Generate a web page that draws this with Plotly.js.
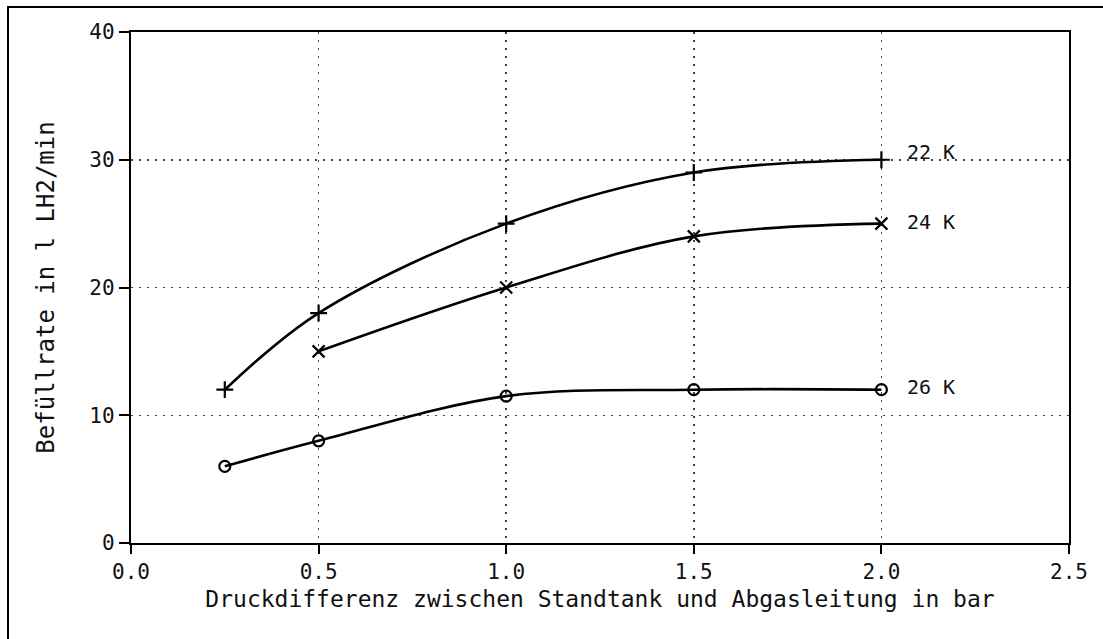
<!DOCTYPE html>
<html>
<head>
<meta charset="utf-8">
<script src="https://cdn.plot.ly/plotly-3.0.1.min.js"></script>
<style>
  html, body { margin: 0; padding: 0; background: #fff; overflow: hidden; }
  #wrap { position: relative; width: 1103px; height: 639px; overflow: hidden; }
  #frame { position: absolute; left: 7px; top: 6px; width: 1096px; height: 633px; border-left: 2px solid #000; border-top: 2px solid #000; box-sizing: border-box; }
  #chart { position: absolute; left: 0; top: 0; width: 1103px; height: 639px; }
</style>
</head>
<body>
<div id="wrap">
  <div id="frame"></div>
  <div id="chart"></div>
</div>
<script>
// Data
const pressure22 = [0.25, 0.5, 1.0, 1.5, 2.0];
const rate22     = [12, 18, 25, 29, 30];
const pressure24 = [0.5, 1.0, 1.5, 2.0];
const rate24     = [15, 20, 24, 25];
const pressure26 = [0.25, 0.5, 1.0, 1.5, 2.0];
const rate26     = [6, 8, 11.5, 12, 12];

const seriesLabels = ['22 K', '24 K', '26 K'];
const labelY       = [30.6, 25.1, 12.2];
const labelX       = 2.0;

const xTickVals = [0, 0.5, 1.0, 1.5, 2.0, 2.5];
const yTickVals = [0, 10, 20, 30, 40];

const FONT = 'DejaVu Sans Mono, Liberation Mono, monospace';

function curve(x, y, symbol, size) {
  return {
    x: x, y: y, type: 'scatter', mode: 'lines+markers',
    line: { color: '#000', width: 2.6, shape: 'spline', smoothing: 1 },
    marker: { symbol: symbol, size: size, color: '#000', line: { color: '#000', width: 2.2 } },
    showlegend: false, hoverinfo: 'x+y'
  };
}

const data = [
  curve(pressure22, rate22, 'cross-thin-open', 12),
  curve(pressure24, rate24, 'x-thin-open', 12),
  curve(pressure26, rate26, 'circle-open', 11)
];

const annotations = seriesLabels.map((t, i) => ({
  x: labelX, y: labelY[i], xref: 'x', yref: 'y',
  text: t, showarrow: false, xanchor: 'left', yanchor: 'middle', xshift: 24,
  font: { family: FONT, size: 20, color: '#111' }
}));

const layout = {
  width: 1103, height: 639,
  margin: { l: 131, r: 34, t: 32, b: 96 },
  paper_bgcolor: 'rgba(0,0,0,0)',
  plot_bgcolor: '#fff',
  font: { family: FONT, color: '#111', size: 20 },
  xaxis: {
    range: [0, 2.5], tickvals: xTickVals, tickformat: '.1f',
    showline: true, linecolor: '#000', linewidth: 2.2, mirror: true,
    ticks: 'outside', ticklen: 9, tickwidth: 2, tickcolor: '#000',
    showgrid: true, gridcolor: '#444', gridwidth: 1.5, griddash: '2px,6px',
    zeroline: false,
    tickfont: { family: FONT, size: 21, color: '#111' },
    title: { text: 'Druckdifferenz zwischen Standtank und Abgasleitung in bar',
             font: { family: FONT, size: 23, color: '#111' }, standoff: 8 }
  },
  yaxis: {
    range: [0, 40], tickvals: yTickVals,
    showline: true, linecolor: '#000', linewidth: 2.2, mirror: true,
    ticks: 'outside', ticklen: 10, tickwidth: 2, tickcolor: '#000',
    showgrid: true, gridcolor: '#444', gridwidth: 1.5, griddash: '2px,6px',
    zeroline: false,
    tickfont: { family: FONT, size: 21, color: '#111' },
    title: { text: 'Befüllrate in l LH2/min',
             font: { family: FONT, size: 24, color: '#111' }, standoff: 28 }
  },
  annotations: annotations
};

Plotly.newPlot('chart', data, layout, { displayModeBar: false, staticPlot: true });
</script>
</body>
</html>
